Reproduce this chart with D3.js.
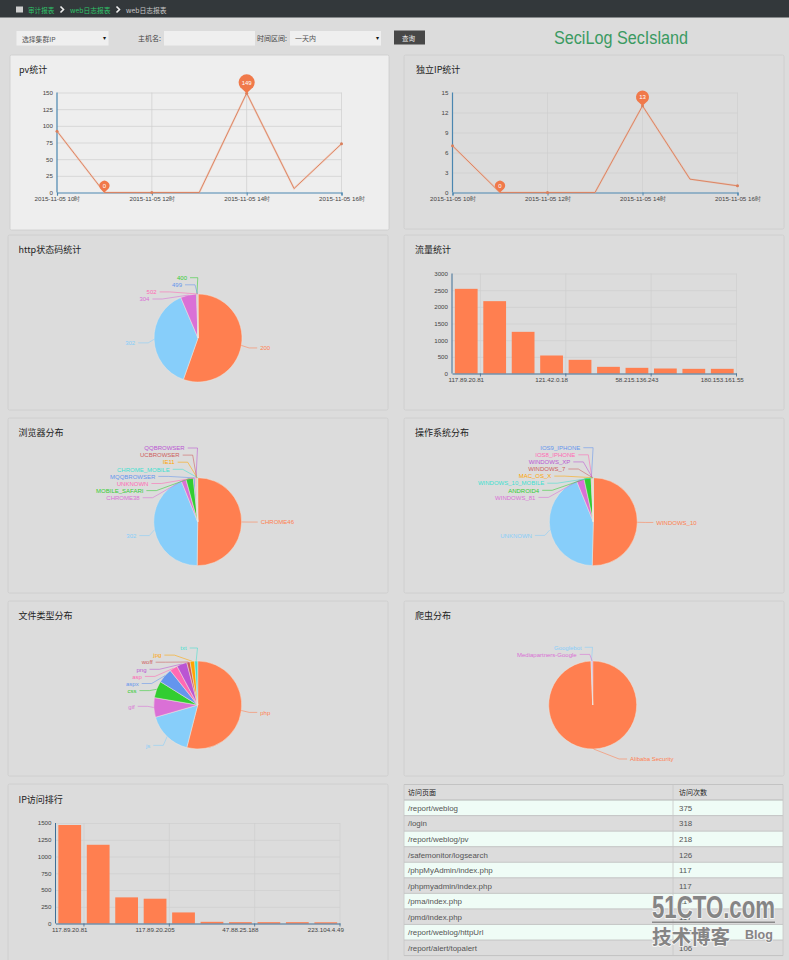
<!DOCTYPE html>
<html><head><meta charset="utf-8">
<script src="https://cdn.jsdelivr.net/npm/d3@7/dist/d3.min.js"></script>
<style>html,body{margin:0;padding:0;background:#dcdcdc;overflow:hidden}svg{display:block}
text{font-family:"Liberation Sans",Arial,sans-serif}
.cjk{font-family:"Noto Sans CJK SC","Liberation Sans",sans-serif}</style></head><body>
<script>
// ---------- data ----------
const hourLabels=["2015-11-05 10时","","2015-11-05 12时","","2015-11-05 14时","","2015-11-05 16时"];
const pvValues=[92,0,0,0,149,6,73];
const ipValues=[7,0,0,0,13,2,1];
const trafficLabels=["117.89.20.81","","","121.42.0.18","","","58.215.136.243","","","180.153.161.55"];
const trafficValues=[2540,2170,1250,540,410,200,170,150,140,140];
const rankLabels=["117.89.20.81","","","117.89.20.205","","","47.88.25.188","","","223.104.4.49"];
const rankValues=[1470,1175,390,370,165,25,20,20,20,18];
const httpNames=["200","302","304","400","499","502"];
const httpValues=[554,382,59,2,2,1];
const httpStack=["400","499","502","304"];
const browserNames=["CHROME46","302","CHROME38","MOBILE_SAFARI","MQQBROWSER","UNKNOWN","QQBROWSER","UCBROWSER","IE11","CHROME_MOBILE"];
const browserValues=[502,437,18,27,6,3,2,2,2,1];
const browserStack=["QQBROWSER","UCBROWSER","IE11","CHROME_MOBILE","MQQBROWSER","UNKNOWN","MOBILE_SAFARI","CHROME38"];
const osNames=["WINDOWS_10","UNKNOWN","WINDOWS_81","ANDROID4","IOS9_IPHONE","IOS8_IPHONE","WINDOWS_XP","WINDOWS_7","MAC_OS_X","WINDOWS_10_MOBILE"];
const osValues=[504,434,28,26,2,2,1,1,1,1];
const osStack=["IOS9_IPHONE","IOS8_IPHONE","WINDOWS_XP","WINDOWS_7","MAC_OS_X","WINDOWS_10_MOBILE","ANDROID4","WINDOWS_81"];
const fileNames=["php","js","gif","css","aspx","asp","png","woff","jpg","txt"];
const fileValues=[540,165,72,62,54,29,38,12,17,11];
const fileStack=["txt","jpg","woff","png","asp","aspx","css"];
const crawlerNames=["Alibaba Security","Googlebot","Mediapartners-Google"];
const crawlerValues=[994,3,3];
const crawlerStack=["Googlebot","Mediapartners-Google"];
const tablePages=["/report/weblog","/login","/report/weblog/pv","/safemonitor/logsearch","/phpMyAdmin/index.php","/phpmyadmin/index.php","/pma/index.php","/pmd/index.php","/report/weblog/httpUrl","/report/alert/topalert"];
const tableCounts=[375,318,218,126,117,117,117,117,109,106];
const tableHead=["访问页面","访问次数"];
const palette=["#ff7f50","#87cefa","#da70d6","#32cd32","#6495ed","#ff69b4","#ba55d3","#cd5c5c","#ffa500","#40e0d0"];

// ---------- page ----------
const svg=d3.select("body").append("svg").attr("width",789).attr("height",960);
svg.append("rect").attr("width",789).attr("height",960).attr("fill","#dcdcdc");
function txt(x,y,s,o={}){return svg.append("text").attr("x",x).attr("y",y).text(s)
  .attr("font-size",o.size||7).attr("fill",o.fill||"#333").attr("text-anchor",o.anchor||"start")
  .attr("class",o.latin?null:"cjk").attr("font-weight",o.weight||null);}
function box(x,y,w,h,fill,stroke){return svg.append("rect").attr("x",x).attr("y",y).attr("width",w).attr("height",h).attr("fill",fill).attr("stroke",stroke||"none").attr("stroke-width",.8);}
function chevron(x,y,c){svg.append("path").attr("d",`M${x},${y-3}L${x+3},${y}L${x},${y+3}`).attr("fill","none").attr("stroke",c).attr("stroke-width",1.6);}

// header
box(0,0,789,17.5,"#33383b");
box(16,6.5,7,6,"#cfcfcf");
txt(28,12.5,"审计报表",{fill:"#2fc46a",size:6.6});
chevron(60.5,9.5,"#eee");
txt(70,12.5,"web日志报表",{fill:"#2fc46a",size:6.8});
chevron(116.5,9.5,"#eee");
txt(126,12.5,"web日志报表",{fill:"#c8c8c8",size:6.8});

// form
box(16.5,31,92,14.5,"#efefef");txt(22,41.5,"选择集群IP",{size:6.8,fill:"#555"});
txt(104,40,"▾",{size:6,fill:"#111",anchor:"middle"});
txt(138,40.5,"主机名:",{size:7,fill:"#444"});
box(164,31,91,14.5,"#efefef");
txt(257,40.5,"时间区间:",{size:7,fill:"#444"});
box(290,31,91,14.5,"#efefef");txt(295,41,"一天内",{size:7,fill:"#555"});
txt(377,40,"▾",{size:6,fill:"#111",anchor:"middle"});
box(394,30.5,31,14,"#474747");txt(402,40.5,"查询",{size:6.5,fill:"#eee"});
svg.append("text").attr("x",554).attr("y",43.5).text("SeciLog SecIsland").attr("font-family","Open Sans")
  .attr("font-size",17.5).attr("fill","#3a9a62").attr("textLength",134).attr("lengthAdjust","spacingAndGlyphs");

// panels
const panelLayout=[[10,55,379,175,"#eeeeee"],[404,55,380,174],[8,235,380,175],[404,235,380,175],[8,418,380,175],[404,418,380,175],[8,601,380,175],[404,601,380,175],[8,784,380,180]];
panelLayout.forEach(p=>box(p[0],p[1],p[2],p[3],p[4]||"#dcdcdc","#cbcbcb").attr("rx",1.5));
const titles=[["pv统计",19,73],["独立IP统计",416,73],["http状态码统计",18.5,253],["流量统计",415,253],["浏览器分布",18.5,436],["操作系统分布",415,436],["文件类型分布",18.5,619],["爬虫分布",415,619],["IP访问排行",18.5,803]];
titles.forEach(t=>txt(t[1],t[2],t[0],{size:9,fill:"#222"}));

// ---------- shared axis drawing ----------
const gridColor="#cecece",axisColor="#4a86b0",tickText="#444";
function styleAxisText(g){g.selectAll("text").attr("font-size",6.2).attr("fill",tickText).attr("font-family",'"Liberation Sans","Noto Sans CJK SC",sans-serif');}
function yAxis(y,x0,x1,ticks){
  const g=svg.append("g").attr("transform",`translate(${x0},0)`).call(d3.axisLeft(y).tickValues(ticks).tickFormat(d3.format("d")).tickSize(0).tickPadding(4));
  g.select(".domain").remove();styleAxisText(g);
  svg.append("g").selectAll("line").data(ticks.filter(t=>t>0)).join("line").attr("x1",x0).attr("x2",x1).attr("y1",d=>y(d)+.5).attr("y2",d=>y(d)+.5).attr("stroke",gridColor).attr("stroke-width",.7);
}

// ---------- line charts ----------
function lineChart(values,xr,yr,ticks,maxY,pinScale){
  const x=d3.scalePoint().domain(d3.range(values.length)).range(xr);
  const y=d3.scaleLinear().domain([0,maxY]).range(yr);
  yAxis(y,xr[0],xr[1],ticks);
  const tickIdx=hourLabels.map((l,i)=>l?i:-1).filter(i=>i>=0);
  svg.append("g").selectAll("line").data(tickIdx.slice(1)).join("line").attr("x1",d=>x(d)).attr("x2",d=>x(d)).attr("y1",yr[1]).attr("y2",yr[0]).attr("stroke",gridColor).attr("stroke-width",.7);
  const ax=svg.append("g").attr("transform",`translate(0,${yr[0]})`).call(d3.axisBottom(x).tickValues(tickIdx).tickFormat(i=>hourLabels[i]).tickSize(3).tickPadding(1.5));
  ax.select(".domain").attr("stroke",axisColor).attr("stroke-width",1.2);ax.selectAll("line").attr("stroke",axisColor);styleAxisText(ax);
  svg.append("line").attr("x1",xr[0]).attr("x2",xr[0]).attr("y1",yr[0]).attr("y2",yr[1]).attr("stroke",axisColor).attr("stroke-width",1.2);
  const line=d3.line().x((d,i)=>x(i)).y(d=>y(d));
  svg.append("path").attr("d",line(values)).attr("fill","none").attr("stroke","#f4a98a").attr("stroke-width",2).attr("opacity",.4);
  svg.append("path").attr("d",line(values)).attr("fill","none").attr("stroke","#d97f5c").attr("stroke-width",.9);
  svg.append("g").selectAll("circle").data(tickIdx).join("circle").attr("cx",d=>x(d)).attr("cy",d=>y(values[d])).attr("r",1.5).attr("fill","#d97f5c");
  // mark points: max and min
  const mx=d3.maxIndex(values),mn=d3.minIndex(values);
  [[mx,pinScale],[mn,5]].forEach(([i,r])=>{
    const px=x(i),py=y(values[i]),cy=py-r*1.3;
    svg.append("path").attr("d",`M${px},${py}L${px-r*.8},${cy+r*.55}A${r},${r} 0 1 1 ${px+r*.8},${cy+r*.55}Z`).attr("fill","#f0794a");
    svg.append("text").attr("x",px).attr("y",cy+2).attr("text-anchor","middle").attr("font-size",6).attr("fill","#fff").text(values[i]);
  });
}
lineChart(pvValues,[57,341.5],[192.5,92.5],[0,25,50,75,100,125,150],150,8);
lineChart(ipValues,[452.5,737.5],[192.5,92.5],[0,3,6,9,12,15],15,6.5);

// ---------- bar charts ----------
function barChart(values,labels,xr,yr,ticks,maxY){
  const x=d3.scaleBand().domain(d3.range(values.length)).range(xr).paddingInner(.2).paddingOuter(.1);
  const step=(xr[1]-xr[0])/values.length;
  const y=d3.scaleLinear().domain([0,maxY]).range(yr);
  yAxis(y,xr[0],xr[1],ticks);
  const shown=labels.map((l,i)=>l?i:-1).filter(i=>i>=0);
  const bandEnd=i=>xr[0]+step*(i+1);
  svg.append("g").selectAll("line").data(shown).join("line").attr("x1",d=>bandEnd(d)).attr("x2",d=>bandEnd(d)).attr("y1",yr[1]).attr("y2",yr[0]+3).attr("stroke",(d,i)=>gridColor).attr("stroke-width",.7);
  svg.append("g").selectAll("rect").data(values).join("rect").attr("x",(d,i)=>x(i)).attr("width",x.bandwidth()).attr("y",d=>y(d)).attr("height",d=>yr[0]-y(d)).attr("fill","#ff7f50");
  const ax=svg.append("g").attr("transform",`translate(0,${yr[0]})`).call(d3.axisBottom(x).tickValues(shown).tickFormat(i=>labels[i]).tickSize(0).tickPadding(4));
  ax.select(".domain").attr("stroke","#3f6f96").attr("stroke-width",1.1);styleAxisText(ax);
  svg.append("g").selectAll("line").data(shown).join("line").attr("x1",d=>bandEnd(d)).attr("x2",d=>bandEnd(d)).attr("y1",yr[0]).attr("y2",yr[0]+3).attr("stroke","#3f6f96").attr("stroke-width",.8);
  svg.append("line").attr("x1",xr[0]).attr("x2",xr[0]).attr("y1",yr[0]).attr("y2",yr[1]).attr("stroke","#3f6f96").attr("stroke-width",1);
}
barChart(trafficValues,trafficLabels,[452,736.5],[373.5,273.5],[0,500,1000,1500,2000,2500,3000],3000);
barChart(rankValues,rankLabels,[55.5,340],[923.5,823],[0,250,500,750,1000,1250,1500],1500);

// ---------- pies ----------
const outerR=44,reach=60,stackGap=7.1;
function pieChart(names,values,stack,o){
  const arcs=d3.pie().sort(null)(values);
  const arc=d3.arc().innerRadius(0).outerRadius(outerR);
  const g=svg.append("g").attr("transform",`translate(${o.cx},${o.cy})`);
  g.selectAll("path").data(arcs).join("path").attr("d",arc).attr("fill",(d,i)=>palette[i]).attr("stroke","#efe6df").attr("stroke-width",.5);
  names.forEach((name,i)=>{
    const a=arcs[i],mid=(a.startAngle+a.endAngle)/2;
    const sx=Math.sin(mid)*outerR,sy=-Math.cos(mid)*outerR;
    let ly,dx;
    const k=stack.indexOf(name),right=mid<Math.PI;
    if(k>=0){
      ly=-o.rise+k*stackGap;
      dx=k<o.tight?o.start+5*k:Math.sqrt(Math.max(reach*reach-ly*ly,0));
    }else{
      ly=-Math.cos(mid)*(outerR+15)+(right?0:(o.leftDrop||0))-(right?(o.rightLift||0):0);
      const R=right?(o.rightReach||reach):reach;
      dx=Math.sqrt(Math.max(R*R-ly*ly,0));
    }
    const dir=right?1:-1,elbow=dir*Math.max(dx-(right?8:10),0),end=dir*dx;
    g.append("path").attr("d",d3.line()([[sx,sy],[k>=0?Math.min(elbow,-.2):elbow,ly],[end,ly]])).attr("fill","none").attr("stroke",palette[i]).attr("stroke-width",.7).attr("opacity",.8);
    g.append("text").attr("x",end+dir*3).attr("y",ly+2.2).attr("text-anchor",right?"start":"end").attr("font-size",6).attr("fill",palette[i]).text(name);
  });
}
pieChart(httpNames,httpValues,httpStack,{cx:198,cy:338,rise:60.3,tight:2,start:8,leftDrop:3});
pieChart(browserNames,browserValues,browserStack,{cx:197.7,cy:521.7,rise:73.7,tight:4,start:10,leftDrop:3});
pieChart(osNames,osValues,osStack,{cx:593.3,cy:521.7,rise:74,tight:4,start:10,leftDrop:3});
pieChart(fileNames,fileValues,fileStack,{cx:197.7,cy:705,rise:57,tight:1,start:8,leftDrop:-2});
pieChart(crawlerNames,crawlerValues,crawlerStack,{cx:592.7,cy:705,rise:57.7,tight:2,start:8,rightLift:5,rightReach:64});

// ---------- table ----------
const rowH=15.55,tTop=784.5,tL=404,tR=783,colX=673;
const rows=tablePages.map((p,i)=>({p,c:tableCounts[i]}));
box(tL,tTop,tR-tL,rowH,"#dcdcdc");
const rowY=d3.scaleLinear().domain([0,1]).range([tTop+rowH,tTop+2*rowH]);
svg.append("g").selectAll("rect").data(rows).join("rect").attr("x",tL).attr("width",tR-tL).attr("y",(d,i)=>rowY(i)).attr("height",rowH).attr("fill",(d,i)=>i%2?"#dcdcdc":"#effcf6");
svg.append("g").selectAll("line").data(d3.range(rows.length+2)).join("line").attr("x1",tL).attr("x2",tR).attr("y1",i=>tTop+i*rowH).attr("y2",i=>tTop+i*rowH).attr("stroke",i=>i==1?"#a9a9a9":"#bdbdbd").attr("stroke-width",.8);
[tL,colX,tR].forEach(x=>svg.append("line").attr("x1",x).attr("x2",x).attr("y1",tTop).attr("y2",tTop+11*rowH).attr("stroke","#c6c6c6").attr("stroke-width",.8));
txt(408,tTop+10.8,tableHead[0],{size:7,fill:"#222"});txt(679,tTop+10.8,tableHead[1],{size:7,fill:"#222"});
svg.append("g").selectAll("text").data(rows).join("text").attr("x",408).attr("y",(d,i)=>rowY(i)+10.8).attr("font-size",7.9).attr("fill","#555").text(d=>d.p);
svg.append("g").selectAll("text").data(rows).join("text").attr("x",679).attr("y",(d,i)=>rowY(i)+10.8).attr("font-size",7.9).attr("fill","#555").text(d=>d.c);

// ---------- watermark ----------
function mark(x,y,s,size,o={}){
  const t=svg.append("text").attr("x",x).attr("y",y).text(s).attr("font-size",size).attr("font-weight","bold").attr("fill","#858585")
    .attr("stroke","#f6f6f6").attr("stroke-width",o.halo||2).attr("stroke-linejoin","round").attr("paint-order","stroke");
  if(o.cjk)t.attr("class","cjk");
  if(o.len)t.attr("textLength",o.len).attr("lengthAdjust","spacingAndGlyphs");
}
mark(652,918,"51CTO.com",32,{len:123,halo:2.2});
box(652,921.5,123,1.5,"#8a8a8a");
mark(652,944,"技术博客",19.5,{cjk:true,halo:1.8});
mark(745,938.5,"Blog",12.5,{halo:1.4});
</script></body></html>
